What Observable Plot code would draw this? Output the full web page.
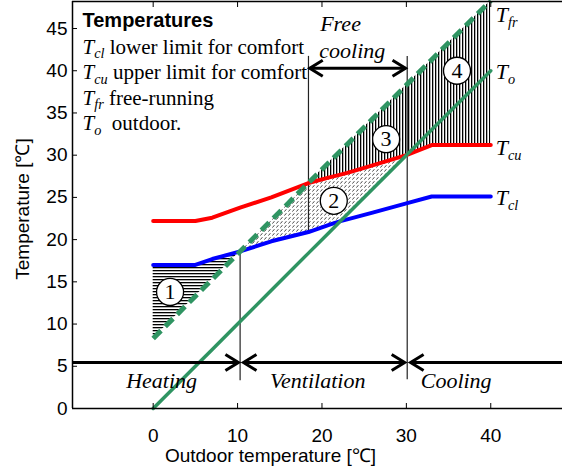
<!DOCTYPE html>
<html><head><meta charset="utf-8">
<script src="https://cdn.jsdelivr.net/npm/d3@7"></script>
<script src="https://cdn.jsdelivr.net/npm/@observablehq/plot@0.6"></script>
<style>body{margin:0;background:#fff} svg{display:block}</style>
</head><body><div id="chart"></div>
<script>
// ---- data ----
const outdoorX = [0, 5, 7, 10.3, 14, 18.4, 21, 22.2, 23, 26, 30, 33, 40];
const Tcl      = [17, 17, 17.7, 18.6, 19.8, 20.9, 21.8, 22.2, 22.4, 23.2, 24.3, 25.1, 25.1];
const Tcu      = [22.2, 22.2, 22.6, 23.8, 25.0, 26.7, 27.4, 27.7, 27.9, 28.8, 30.0, 31.2, 31.2];
const Tfr      = [8.3, 13.3, 15.3, 18.6, 22.3, 26.7, 29.3, 30.5, 31.3, 34.3, 38.3, 41.3, 48.3];
const To       = [0, 5, 7, 10.3, 14, 18.4, 21, 22.2, 23, 26, 30, 33, 40];

const xTicks = [0, 10, 20, 30, 40];
const yTicks = [0, 5, 10, 15, 20, 25, 30, 35, 40, 45];
const xDomain = [-9.56, 48.5];
const yDomain = [0, 48.2];

const limitX   = [10.3, 18.4, 30.1];
const limitLo  = [3.3, 20.9, 3.4];
const limitHi  = [18.6, 41.7, 41.7];

const zoneNames = ["Heating", "Ventilation", "Cooling"];
const zoneX     = [1.0, 19.5, 35.9];
const zoneY     = [3.3, 3.3, 3.3];
const modeY     = 5.45;
const freeCoolingText = ["Free", "cooling"];
const freeCoolingX = [22.2, 23.6];
const freeCoolingY = [45.5, 42.4];
const freeCoolingArrow = {x1: 18.55, x2: 29.9, y: 40.3};

const circleLabels = ["1", "2", "3", "4"];
const circleX = [2.0, 21.4, 27.6, 36.0];
const circleY = [13.8, 24.6, 31.9, 40.0];

const endLabels = ["T_{fr}", "T_{o}", "T_{cu}", "T_{cl}"];
const endLabelY = [46.6, 39.8, 30.8, 24.9];

const legendTitle = "Temperatures";
const legendLines = ["T_{cl} lower limit for comfort", "T_{cu} upper limit for comfort", "T_{fr} free-running", "T_{o}  outdoor."];

// ---- table ----
const rows = outdoorX.map((x, i) => ({x, cl: Tcl[i], cu: Tcu[i], fr: Tfr[i], o: To[i]}));
const limits = limitX.map((x, i) => ({x, y1: limitLo[i], y2: limitHi[i]}));
const zones = zoneNames.map((t, i) => ({t, x: zoneX[i], y: zoneY[i]}));
const circles = circleLabels.map((t, i) => ({t, x: circleX[i], y: circleY[i]}));
const ends = endLabels.map((t, i) => ({t, x: 40, y: endLabelY[i]}));
const fc = freeCoolingText.map((t, i) => ({t, x: freeCoolingX[i], y: freeCoolingY[i]}));

const green = "#2f9462";
const serif = "Liberation Serif";
const sans = "Liberation Sans";

const arrowSeg = (x1, x2, y) => [{x1, x2, y}];

const marks = [
  Plot.areaY(rows.filter(d => d.x <= 10.3), {x: "x", y1: "fr", y2: "cl", fill: "url(#hH)", curve: "linear"}),
  Plot.areaY(rows.filter(d => d.x >= 10.3 && d.x <= 30), {x: "x", y1: d => Math.max(d.cl, d.o), y2: d => Math.min(d.fr, d.cu), fill: "url(#hD)"}),
  Plot.areaY(rows.filter(d => d.x >= 18.4), {x: "x", y1: "cu", y2: "fr", fill: "url(#hV)"}),
  Plot.ruleX(limits, {x: "x", y1: "y1", y2: "y2", stroke: "#222", strokeWidth: 1.2}),
  Plot.line(rows, {x: "x", y: "cu", stroke: "#ff0000", strokeWidth: 4}),
  Plot.line(rows, {x: "x", y: "cl", stroke: "#0000ff", strokeWidth: 4}),
  Plot.line(rows, {x: "x", y: "o", stroke: green, strokeWidth: 3.5}),
  Plot.line(rows, {x: "x", y: "fr", stroke: green, strokeWidth: 5, strokeDasharray: "11,6", strokeLinecap: "butt"}),
  Plot.dot(circles, {x: "x", y: "y", r: 13.5, fill: "white", stroke: "black", strokeWidth: 1.3}),
  Plot.text(circles, {x: "x", y: "y", text: "t", fontFamily: serif, fontSize: 22, fill: "black"}),
  Plot.text(zones, {x: "x", y: "y", text: "t", fontFamily: serif, fontStyle: "italic", fontSize: 22, fill: "black"}),
  Plot.text(fc, {x: "x", y: "y", text: "t", fontFamily: serif, fontStyle: "italic", fontSize: 22, fill: "black"}),
  Plot.text(ends, {x: "x", y: "y", text: "t", dx: 5, textAnchor: "start", fontFamily: serif, fontSize: 22, fill: "black"}),
  Plot.link(arrowSeg(xDomain[0], 10.1, modeY), {x1: "x1", x2: "x2", y1: "y", y2: "y", stroke: "black", strokeWidth: 3, markerEnd: "arrow"}),
  Plot.link(arrowSeg(10.7, 29.8, modeY), {x1: "x1", x2: "x2", y1: "y", y2: "y", stroke: "black", strokeWidth: 3, markerStart: "arrow", markerEnd: "arrow"}),
  Plot.link(arrowSeg(30.5, xDomain[1], modeY), {x1: "x1", x2: "x2", y1: "y", y2: "y", stroke: "black", strokeWidth: 3, markerStart: "arrow"}),
  Plot.link([freeCoolingArrow], {x1: "x1", x2: "x2", y1: "y", y2: "y", stroke: "black", strokeWidth: 3, markerStart: "arrow", markerEnd: "arrow"}),
  Plot.text([legendTitle], {frameAnchor: "top-left", dx: 10, dy: 25, textAnchor: "start", lineAnchor: "bottom", fontFamily: sans, fontWeight: "bold", fontSize: 20, fill: "black"}),
  ...legendLines.map((s, i) => Plot.text([s], {frameAnchor: "top-left", dx: 10, dy: 52 + 25.5 * i, textAnchor: "start", lineAnchor: "bottom", fontFamily: serif, fontSize: 21, fill: "black"})),
  Plot.ruleX([xDomain[0]], {stroke: "black", strokeWidth: 1.5}),
  Plot.ruleY([yDomain[0]], {stroke: "black", strokeWidth: 1.5}),
  Plot.ruleY([yDomain[1]], {stroke: "black", strokeWidth: 1.5}),
  Plot.axisX({anchor: "bottom", ticks: xTicks, tickSize: 5, dy: -5, tickFormat: () => "", label: null}),
  Plot.axisX({anchor: "top", ticks: xTicks, tickSize: 5, dy: 5, tickFormat: () => "", label: null}),
  Plot.axisY({anchor: "left", ticks: yTicks, tickSize: 5, dx: 5, tickFormat: () => "", label: null}),
  Plot.axisX({anchor: "bottom", ticks: xTicks, tickSize: 0, tickPadding: 20, fontSize: 19, label: null}),
  Plot.axisY({anchor: "left", ticks: yTicks, tickSize: 0, tickPadding: 5, fontSize: 19, label: null}),
  Plot.text(["Temperature [℃]"], {frameAnchor: "left", dx: -50, dy: 4, rotate: -90, textAnchor: "middle", lineAnchor: "middle", fontFamily: sans, fontSize: 19, fill: "black"}),
  Plot.text(["Outdoor temperature [℃]"], {frameAnchor: "bottom", dx: -47, dy: 47, textAnchor: "middle", lineAnchor: "middle", fontFamily: sans, fontSize: 19, fill: "black"})
];

const chart = Plot.plot({
  width: 562, height: 468,
  marginLeft: 72, marginRight: 0, marginTop: 1, marginBottom: 60,
  x: {domain: xDomain},
  y: {domain: yDomain},
  style: {fontFamily: sans, fontSize: "19px", color: "black", background: "white", overflow: "visible"},
  marks
});

const ns = "http://www.w3.org/2000/svg";
const defs = document.createElementNS(ns, "defs");
defs.innerHTML = `
<pattern id="hH" width="4" height="3" patternUnits="userSpaceOnUse"><rect x="0" y="0" width="4" height="1.3" fill="black"/></pattern>
<pattern id="hV" width="3" height="4" patternUnits="userSpaceOnUse"><rect x="0" y="0" width="1.3" height="4" fill="black"/></pattern>
<pattern id="hD" width="4" height="4" patternUnits="userSpaceOnUse"><path d="M0.4,3.6L2.4,1.2" stroke="#333" stroke-width="0.9" fill="none"/></pattern>
<marker id="ahd" viewBox="-16 -10 20 20" refX="0" refY="0" markerWidth="20" markerHeight="20" markerUnits="userSpaceOnUse" orient="auto-start-reverse"><path d="M-13,-8L0,0L-13,8" fill="none" stroke="black" stroke-width="3" stroke-linejoin="miter"/></marker>`;
chart.insertBefore(defs, chart.firstChild);
chart.querySelectorAll("[marker-start]").forEach(e => e.setAttribute("marker-start", "url(#ahd)"));
chart.querySelectorAll("[marker-end]").forEach(e => e.setAttribute("marker-end", "url(#ahd)"));

chart.querySelectorAll("text").forEach(t => {
  const s = t.textContent;
  const m = s.match(/^(.*?)T_\{(\w+)\}(.*)$/);
  if (!m) return;
  const fs = parseFloat(t.getAttribute("font-size") || getComputedStyle(t).fontSize) || 21;
  while (t.firstChild) t.removeChild(t.firstChild);
  const mk = (txt, attrs) => {
    const e = document.createElementNS(ns, "tspan");
    e.textContent = txt;
    for (const k in attrs) e.setAttribute(k, attrs[k]);
    t.appendChild(e);
  };
  if (m[1]) mk(m[1], {});
  mk("T", {"font-style": "italic"});
  mk(m[2], {"font-style": "italic", "font-size": (fs * 0.68).toFixed(1), dy: (fs * 0.22).toFixed(1)});
  if (m[3]) mk(m[3], {dy: (-fs * 0.22).toFixed(1)});
});

document.getElementById("chart").appendChild(chart);
</script>
</body></html>
